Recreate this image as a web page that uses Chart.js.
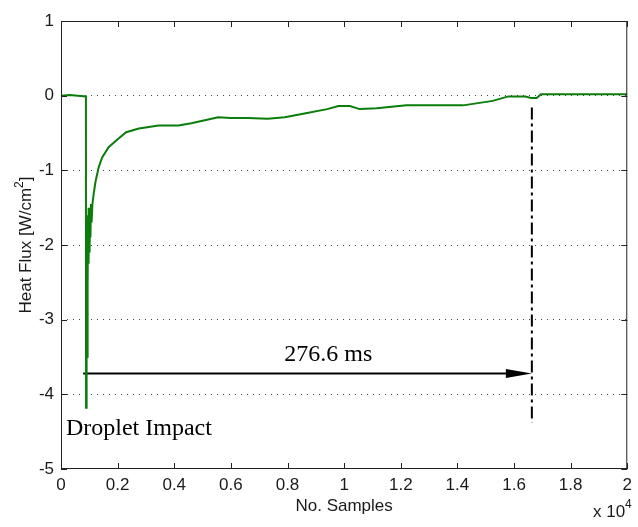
<!DOCTYPE html>
<html>
<head>
<meta charset="utf-8">
<script src="https://cdn.jsdelivr.net/npm/chart.js@4.4.0/dist/chart.umd.min.js"></script>
<style>
html, body { margin: 0; padding: 0; background: #fff; }
canvas { display: block; }
</style>
</head>
<body>
<canvas id="fluxgraph" width="638" height="527"></canvas>
<script>
// sample index / measured heat flux [W/cm2]
var samples = [
    0, 300, 600, 880, 885, 895, 905, 915, 925, 935, 945, 955, 965, 975, 985, 995,
    1010, 1025, 1040, 1060, 1080, 1110, 1160, 1220, 1330, 1450, 1680, 1950, 2300,
    2750, 3450, 4150, 4600, 5200, 5550, 6000, 6600, 7300, 7900, 8600, 9400, 9800,
    10200, 10550, 11150, 12200, 13500, 14200, 14550, 15250, 15800, 16400, 16600,
    16800, 16950, 18000, 20000
];
var heatflux = [
    0, 0.01, 0, -0.01, -4.18, -3.4, -3.9, -2.6, -3.5, -2.0, -2.6, -1.6, -2.25, -1.5, -2.2, -1.55,
    -2.1, -1.5, -1.9, -1.45, -1.7, -1.45, -1.3, -1.15, -0.96, -0.83, -0.69, -0.6, -0.49,
    -0.44, -0.40, -0.40, -0.37, -0.32, -0.29, -0.30, -0.30, -0.31, -0.29, -0.24, -0.18, -0.14,
    -0.14, -0.18, -0.17, -0.13, -0.13, -0.13, -0.11, -0.07, -0.01, -0.01, -0.03,
    -0.03, 0.02, 0.02, 0.02
];

var xTickValues = [0, 2000, 4000, 6000, 8000, 10000, 12000, 14000, 16000, 18000, 20000];
var xTickLabels = ['0', '0.2', '0.4', '0.6', '0.8', '1', '1.2', '1.4', '1.6', '1.8', '2'];
var yTickValues = [1, 0, -1, -2, -3, -4, -5];
var yTickLabels = ['1', '0', '-1', '-2', '-3', '-4', '-5'];

// impact -> recovery span
var impactSample = 780;
var recoverySample = 16630;
var arrowLevel = -3.72;
var markerTop = -0.16;
var markerBottom = -4.38;
var spanLabel = '276.6 ms';
var spanLabelAt = [9440, -3.56];
var impactLabel = 'Droplet Impact';
var impactLabelAt = [175, -4.55];

var sansFont = "'Liberation Sans', Arial, sans-serif";
var serifFont = "'Liberation Serif', 'Times New Roman', serif";

var frame = {
    id: 'frame',
    afterDraw: function(chart) {
        var ctx = chart.ctx, a = chart.chartArea;
        var xs = chart.scales.x, ys = chart.scales.y;
        ctx.save();

        // box + inward ticks
        ctx.strokeStyle = '#222';
        ctx.lineWidth = 1;
        ctx.strokeRect(a.left + 0.5, a.top + 0.5, a.right - a.left - 1, a.bottom - a.top - 1);
        ctx.beginPath();
        xTickValues.forEach(function(v) {
            var x = Math.round(xs.getPixelForValue(v)) + 0.5;
            ctx.moveTo(x, a.bottom); ctx.lineTo(x, a.bottom - 6);
            ctx.moveTo(x, a.top); ctx.lineTo(x, a.top + 6);
        });
        yTickValues.forEach(function(v) {
            var y = Math.round(ys.getPixelForValue(v)) + 0.5;
            ctx.moveTo(a.left, y); ctx.lineTo(a.left + 6, y);
            ctx.moveTo(a.right, y); ctx.lineTo(a.right - 6, y);
        });
        ctx.stroke();

        // arrow head
        var tx = xs.getPixelForValue(recoverySample), ty = ys.getPixelForValue(arrowLevel);
        ctx.fillStyle = '#000';
        ctx.beginPath();
        ctx.moveTo(tx, ty);
        ctx.lineTo(tx - 26, ty - 4.5);
        ctx.lineTo(tx - 26, ty + 4.5);
        ctx.closePath();
        ctx.fill();

        // annotations
        ctx.fillStyle = '#000';
        ctx.font = '24px ' + serifFont;
        ctx.textBaseline = 'alphabetic';
        ctx.textAlign = 'center';
        ctx.fillText(spanLabel, xs.getPixelForValue(spanLabelAt[0]), ys.getPixelForValue(spanLabelAt[1]));
        ctx.textAlign = 'left';
        ctx.fillText(impactLabel, xs.getPixelForValue(impactLabelAt[0]), ys.getPixelForValue(impactLabelAt[1]));

        // axis titles
        ctx.fillStyle = '#1a1a1a';
        ctx.font = '17px ' + sansFont;
        ctx.textAlign = 'center';
        ctx.fillText('No. Samples', (a.left + a.right) / 2, 511);

        ctx.textAlign = 'left';
        ctx.fillText('x 10', 593, 517);
        ctx.font = '12px ' + sansFont;
        ctx.fillText('4', 625, 508);

        // y title, rotated
        ctx.translate(31, (a.top + a.bottom) / 2);
        ctx.rotate(-Math.PI / 2);
        ctx.font = '17px ' + sansFont;
        var t1 = 'Heat Flux [W/cm', t3 = ']';
        var w1 = ctx.measureText(t1).width, w3 = ctx.measureText(t3).width;
        ctx.font = '12px ' + sansFont;
        var w2 = ctx.measureText('2').width;
        var x0 = -(w1 + w2 + w3) / 2;
        ctx.font = '17px ' + sansFont;
        ctx.fillText(t1, x0, 0);
        ctx.fillText(t3, x0 + w1 + w2, 0);
        ctx.font = '12px ' + sansFont;
        ctx.fillText('2', x0 + w1, -8);

        ctx.restore();
    }
};

var fluxPoints = samples.map(function(s, i) { return { x: s, y: heatflux[i] }; });

new Chart(document.getElementById('fluxgraph').getContext('2d'), {
    type: 'line',
    data: {
        datasets: [{
            data: fluxPoints,
            borderColor: '#0a7d0a',
            borderWidth: 2,
            pointRadius: 0,
            tension: 0
        }, {
            // recovery marker, dash-dot
            data: [{ x: recoverySample, y: markerTop }, { x: recoverySample, y: markerBottom }],
            borderColor: '#000',
            borderWidth: 2,
            borderDash: [12, 4, 3, 4],
            pointRadius: 0
        }, {
            // span arrow shaft
            data: [{ x: impactSample, y: arrowLevel }, { x: recoverySample - 20 / 0.0286, y: arrowLevel }],
            borderColor: '#000',
            borderWidth: 2,
            pointRadius: 0
        }]
    },
    options: {
        responsive: false,
        animation: false,
        devicePixelRatio: 1,
        layout: { padding: { top: 21, right: 5, left: 0, bottom: 0 } },
        plugins: {
            legend: { display: false },
            tooltip: { enabled: false }
        },
        scales: {
            x: {
                type: 'linear',
                min: 0,
                max: 20000,
                afterBuildTicks: function(s) { s.ticks = xTickValues.map(function(v) { return { value: v }; }); },
                afterFit: function(s) { s.height = 58; },
                grid: { display: false, drawTicks: false },
                border: { display: false },
                ticks: {
                    padding: 6,
                    maxRotation: 0,
                    autoSkip: false,
                    color: '#1a1a1a',
                    font: { family: sansFont, size: 17 },
                    callback: function(v, i) { return xTickLabels[i]; }
                }
            },
            y: {
                min: -5,
                max: 1,
                afterBuildTicks: function(s) { s.ticks = yTickValues.map(function(v) { return { value: v }; }); },
                afterFit: function(s) { s.width = 61; },
                grid: {
                    drawTicks: false,
                    lineWidth: 1,
                    color: function(c) {
                        return (c.tick && (c.tick.value === 1 || c.tick.value === -5)) ? 'rgba(0,0,0,0)' : '#444';
                    }
                },
                border: { display: false, dash: [1, 5] },
                ticks: {
                    padding: 7,
                    autoSkip: false,
                    color: '#1a1a1a',
                    font: { family: sansFont, size: 17 },
                    callback: function(v, i) { return yTickLabels[i]; }
                }
            }
        }
    },
    plugins: [frame]
});
</script>
</body>
</html>
